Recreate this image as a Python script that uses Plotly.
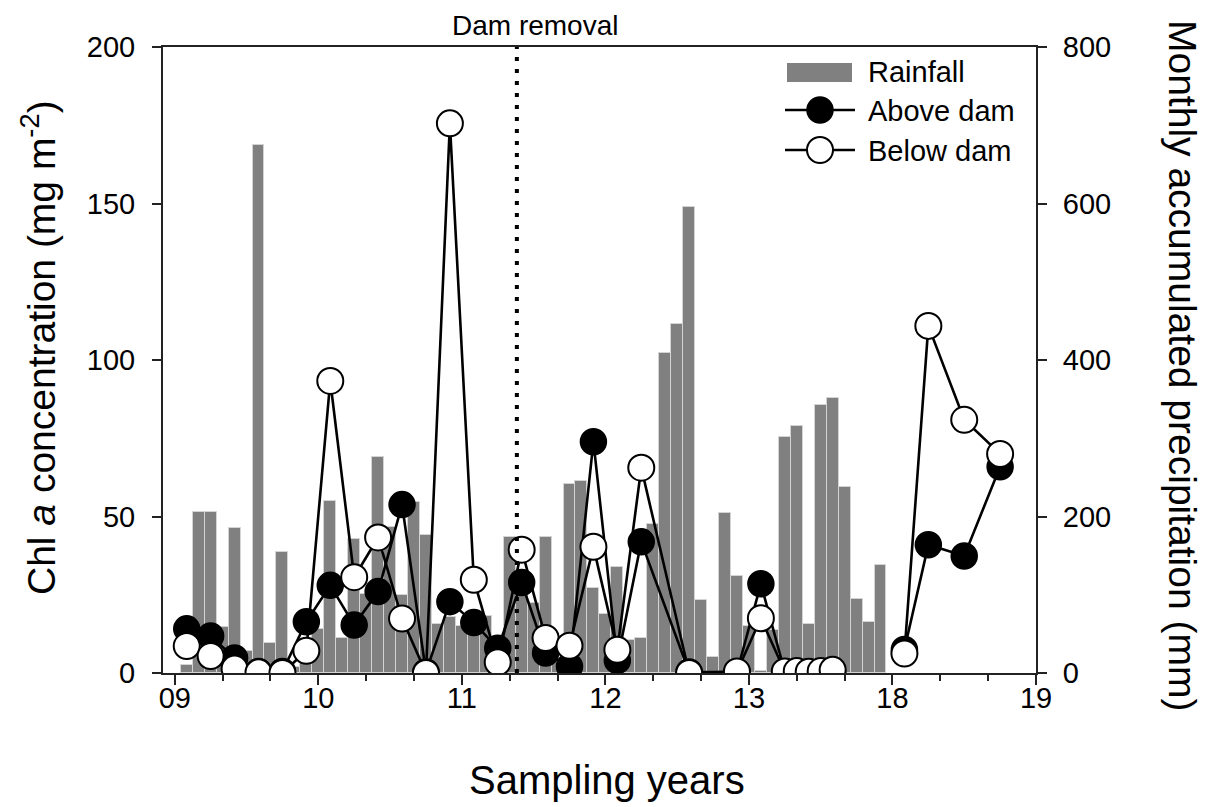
import plotly.graph_objects as go

# ---------------- data ----------------
# Monthly rainfall (mm), Jan 2009 .. Nov 2013 (position = months since Dec 2008)
rain_month_index = list(range(1, 60))
rainfall = [
    10, 206, 206, 59, 185, 28, 675, 38, 155, 8, 40, 56,        # 2009
    220, 45, 171, 101, 276, 187, 100, 218, 176, 62, 71, 60,     # 2010
    73, 73, 20, 174, 100, 90, 174, 15, 241, 246, 108, 75,       # 2011
    136, 42, 45, 190, 409, 446, 596, 93, 20, 205, 124, 60,      # 2012
    2, 55, 301, 316, 63, 343, 352, 238, 95, 65, 138,            # 2013
]

# sampling dates (months since Dec 2008)
sample_month_index = [1, 3, 5, 7, 9, 11, 13, 15, 17, 19, 21, 23, 25, 27, 29, 31,
                      33, 35, 37, 39, 43, 47, 49, 51, 52, 53, 54, 55]
above_dam = [14.1, 11.8, 4.8, 0.5, 0.5, 16.4, 28.0, 15.3, 26.0, 53.8, 0.3, 22.8,
             16.1, 7.9, 28.9, 6.4, 2.1, 73.9, 4.0, 41.9, 0.3, 0.3, 28.5,
             0.3, 0.3, 0.3, 0.3, 0.3]
below_dam = [8.6, 5.4, 1.4, 0.2, 0.0, 7.1, 93.3, 30.6, 43.3, 17.4, 0.0, 175.6,
             29.8, 3.4, 39.4, 11.2, 8.7, 40.3, 7.4, 65.6, 0.0, 0.5, 17.5,
             0.5, 0.6, 0.4, 0.6, 1.0]

# 2018 sampling (months into 2018)
month_2018 = [1, 3, 6, 9]
above_2018 = [7.5, 41.0, 37.4, 65.9]
below_2018 = [6.2, 110.9, 80.9, 70.0]

tick_labels = ["09", "10", "11", "12", "13", "18", "19"]
dam_removal_month = 28.6  # months since Dec 2008

# ---------------- positions on compressed axis ----------------
BASE = 9.0
rain_x = [BASE + m / 12 for m in rain_month_index]
s_x = [BASE + m / 12 for m in sample_month_index] + [None] + [14 + m / 12 for m in month_2018]
a_y = above_dam + [None] + above_2018
b_y = below_dam + [None] + below_2018
tick_vals = [BASE + i for i in range(len(tick_labels))]
dam_x = BASE + dam_removal_month / 12

FONT = "Arial, Liberation Sans, sans-serif"
AX = "#222222"

fig = go.Figure()
# rainfall on primary (right-side) axis so it is drawn underneath
fig.add_trace(go.Bar(
    x=rain_x, y=rainfall, yaxis="y", width=1 / 12,
    marker=dict(color="#808080", line=dict(color="#d4d4d4", width=1)),
    showlegend=False, name="Rainfall"))
fig.add_trace(go.Scatter(
    x=s_x, y=a_y, yaxis="y2", mode="lines+markers", name="Above dam", showlegend=False,
    line=dict(color="black", width=2.6),
    marker=dict(size=26, color="black", line=dict(color="black", width=1.5))))
fig.add_trace(go.Scatter(
    x=s_x, y=b_y, yaxis="y2", mode="lines+markers", name="Below dam", showlegend=False,
    line=dict(color="black", width=2.6),
    marker=dict(size=26, color="white", line=dict(color="black", width=2))))

L, R, T, B = 163, 174, 47, 134
W, H = 1210, 807
pw, ph = W - L - R, H - T - B


def px(xp):
    return (xp - L) / pw


def py(yp):
    return (H - B - yp) / ph


shapes = [
    dict(type="line", xref="x", yref="paper", x0=dam_x, x1=dam_x, y0=0, y1=1,
         line=dict(color="black", width=4, dash="4px,8px")),
    # legend glyphs
    dict(type="rect", xref="paper", yref="paper", x0=px(787), x1=px(852),
         y0=py(82), y1=py(63), fillcolor="#808080", line=dict(width=0)),
    dict(type="line", xref="paper", yref="paper", x0=px(785), x1=px(855),
         y0=py(110), y1=py(110), line=dict(color="black", width=2.4)),
    dict(type="line", xref="paper", yref="paper", x0=px(785), x1=px(855),
         y0=py(150), y1=py(150), line=dict(color="black", width=2.4)),
    dict(type="circle", xref="paper", yref="paper", xsizemode="pixel", ysizemode="pixel",
         xanchor=px(820), yanchor=py(110), x0=-13, x1=13, y0=-13, y1=13,
         fillcolor="black", line=dict(color="black", width=1.5)),
    dict(type="circle", xref="paper", yref="paper", xsizemode="pixel", ysizemode="pixel",
         xanchor=px(820), yanchor=py(150), x0=-13, x1=13, y0=-13, y1=13,
         fillcolor="white", line=dict(color="black", width=2)),
]

LEG = 29
annotations = [
    dict(text="Rainfall", xref="paper", yref="paper", x=px(866), y=py(72),
         xanchor="left", yanchor="middle", showarrow=False, font=dict(size=LEG, color="black", family=FONT)),
    dict(text="Above dam", xref="paper", yref="paper", x=px(866), y=py(111),
         xanchor="left", yanchor="middle", showarrow=False, font=dict(size=LEG, color="black", family=FONT)),
    dict(text="Below dam", xref="paper", yref="paper", x=px(866), y=py(151),
         xanchor="left", yanchor="middle", showarrow=False, font=dict(size=LEG, color="black", family=FONT)),
    dict(text="Dam removal", xref="x", yref="paper", x=dam_x, y=1, xshift=18, yshift=4,
         xanchor="center", yanchor="bottom", showarrow=False, font=dict(size=28, color="black", family=FONT)),
    dict(text="Monthly accumulated precipitation (mm)", xref="paper", yref="paper",
         x=px(1183), y=py(365), textangle=90, xanchor="center", yanchor="middle",
         showarrow=False, font=dict(size=39, color="black", family=FONT)),
    dict(text="Chl <i>a</i> concentration (mg m<sup>-2</sup>)", xref="paper", yref="paper",
         x=px(38), y=py(348), textangle=-90, xanchor="center", yanchor="middle",
         showarrow=False, font=dict(size=39, color="black", family=FONT)),
    dict(text="Sampling years", xref="paper", yref="paper",
         x=px(607), y=py(780), xanchor="center", yanchor="middle",
         showarrow=False, font=dict(size=40, color="black", family=FONT)),
]

fig.update_layout(
    width=W, height=H, margin=dict(l=L, r=R, t=T, b=B, pad=0),
    paper_bgcolor="white", plot_bgcolor="white",
    font=dict(family=FONT, color="black", size=28),
    bargap=0, shapes=shapes, annotations=annotations,
    xaxis=dict(range=[8.918, 15.0], tickmode="array", tickvals=tick_vals, ticktext=tick_labels,
               ticks="outside", ticklen=10, tickwidth=2, tickcolor=AX,
               showline=True, linecolor=AX, linewidth=2, mirror=True,
               showgrid=False, zeroline=False, tickfont=dict(size=29),
               ticklabelstandoff=-12,
               minor=dict(tickmode="linear", tick0=9, dtick=1 / 3, ticks="outside",
                          ticklen=6, tickwidth=2, tickcolor=AX)),
    yaxis=dict(range=[0, 800], tickvals=[0, 200, 400, 600, 800], side="right",
               ticks="outside", ticklen=9, tickwidth=2, tickcolor=AX,
               showline=True, linecolor=AX, linewidth=2, showgrid=False, zeroline=False,
               tickfont=dict(size=29), ticklabelstandoff=10),
    yaxis2=dict(range=[0, 200], tickvals=[0, 50, 100, 150, 200], overlaying="y", side="left",
                ticks="outside", ticklen=9, tickwidth=2, tickcolor=AX,
                showline=True, linecolor=AX, linewidth=2, showgrid=False, zeroline=False,
                tickfont=dict(size=29), ticklabelstandoff=11),
)

fig.write_html("out.html")
